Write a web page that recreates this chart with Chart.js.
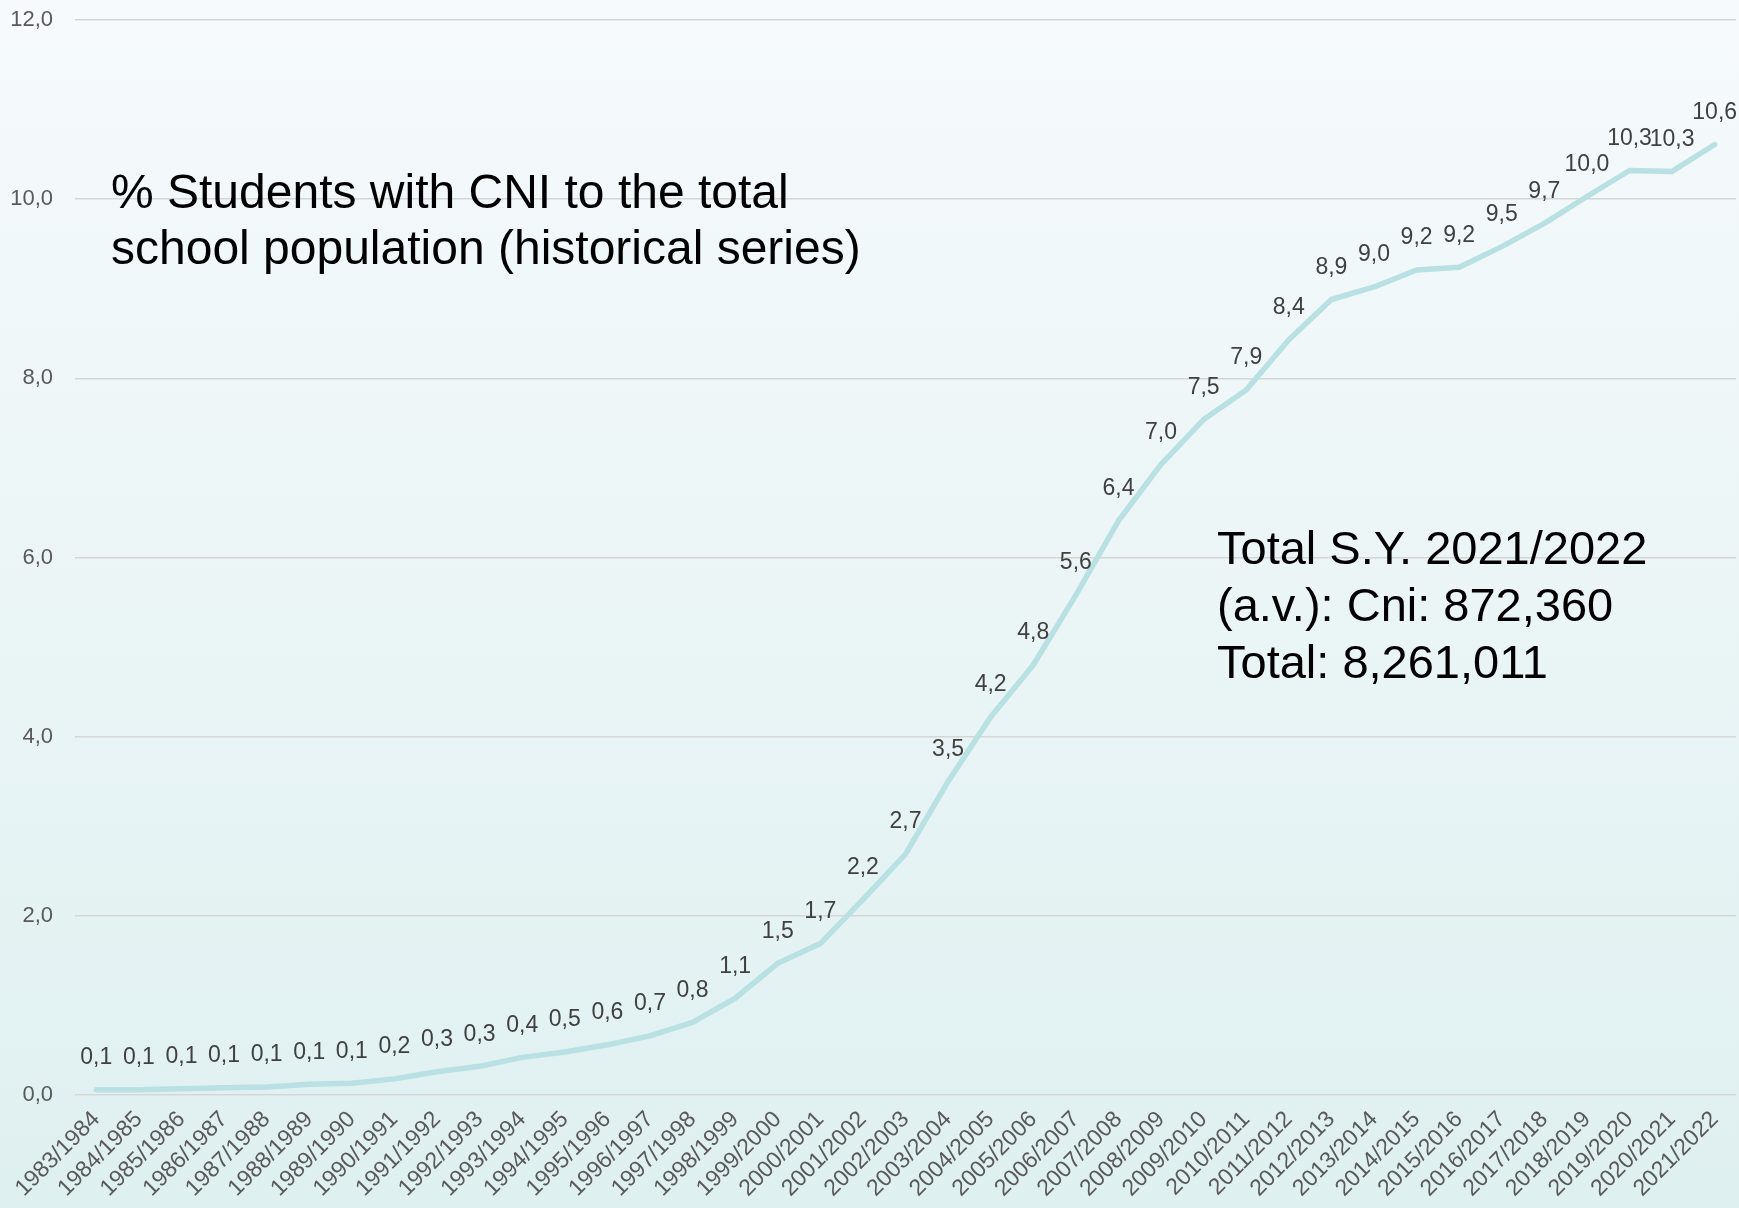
<!DOCTYPE html>
<html>
<head>
<meta charset="utf-8">
<script src="https://cdn.jsdelivr.net/npm/chart.js@4"></script>
<style>
    body { margin: 0; background: #eef6f8; }
    #wrap { width: 1739px; height: 1208px; position: relative; }
</style>
</head>
<body>
<div id="wrap"><canvas id="chart"></canvas></div>
<script>
const YEARS = [
    '1983/1984', '1984/1985', '1985/1986', '1986/1987', '1987/1988', '1988/1989', '1989/1990',
    '1990/1991', '1991/1992', '1992/1993', '1993/1994', '1994/1995', '1995/1996', '1996/1997',
    '1997/1998', '1998/1999', '1999/2000', '2000/2001', '2001/2002', '2002/2003', '2003/2004',
    '2004/2005', '2005/2006', '2006/2007', '2007/2008', '2008/2009', '2009/2010', '2010/2011',
    '2011/2012', '2012/2013', '2013/2014', '2014/2015', '2015/2016', '2016/2017', '2017/2018',
    '2018/2019', '2019/2020', '2020/2021', '2021/2022'
];

// % students with CNI
const CNI_PCT = [
    0.06, 0.06, 0.07, 0.08, 0.09, 0.12, 0.13, 0.18, 0.26, 0.32,
    0.42, 0.48, 0.56, 0.66, 0.81, 1.08, 1.47, 1.69, 2.18, 2.69,
    3.50, 4.22, 4.80, 5.58, 6.41, 7.04, 7.54, 7.87, 8.43, 8.88,
    9.02, 9.21, 9.24, 9.47, 9.73, 10.03, 10.32, 10.31, 10.61
];

const Y_TICKS = [0, 2, 4, 6, 8, 10, 12];

const TITLE_LINES = ['% Students with CNI to the total', 'school population (historical series)'];
const NOTE_LINES = ['Total S.Y. 2021/2022', '(a.v.): Cni: 872,360', 'Total: 8,261,011'];

const FONT = '"Liberation Sans", Arial, sans-serif';

function fmt(v) {
    return v.toFixed(1).replace('.', ',');
}

const background = {
    id: 'background',
    beforeDraw(chart) {
        let ctx = chart.ctx;
        let g = ctx.createLinearGradient(0, 0, 0, chart.height);
        g.addColorStop(0, '#f6fafc');
        g.addColorStop(1, '#dff0f0');
        ctx.save();
        ctx.fillStyle = g;
        ctx.fillRect(0, 0, chart.width, chart.height);
        ctx.restore();
    }
};

const valueLabels = {
    id: 'valueLabels',
    afterDatasetsDraw(chart) {
        let ctx = chart.ctx;
        let meta = chart.getDatasetMeta(0);
        ctx.save();
        ctx.font = '23px ' + FONT;
        ctx.fillStyle = '#404040';
        ctx.textAlign = 'center';
        ctx.textBaseline = 'middle';
        meta.data.forEach((pt, i) => {
            ctx.fillText(fmt(CNI_PCT[i]), pt.x, pt.y - 32);
        });
        ctx.restore();
    }
};

const notes = {
    id: 'notes',
    afterDraw(chart) {
        let ctx = chart.ctx;
        ctx.save();
        ctx.fillStyle = '#000000';
        ctx.textAlign = 'left';
        ctx.textBaseline = 'alphabetic';
        ctx.font = '48px ' + FONT;
        TITLE_LINES.forEach((t, i) => ctx.fillText(t, 111, 208 + i * 56));
        ctx.font = '47px ' + FONT;
        NOTE_LINES.forEach((t, i) => ctx.fillText(t, 1217, 564 + i * 57));
        ctx.restore();
    }
};

new Chart(document.getElementById('chart'), {
    type: 'line',
    data: {
        labels: YEARS,
        datasets: [{
            label: '% CNI',
            data: CNI_PCT,
            borderColor: '#b9e0e3',
            borderWidth: 5.5,
            borderCapStyle: 'round',
            borderJoinStyle: 'round',
            pointRadius: 0,
            tension: 0,
            fill: false
        }]
    },
    options: {
        responsive: true,
        maintainAspectRatio: false,
        devicePixelRatio: 1,
        animation: false,
        layout: { padding: { left: 11, right: 3, top: 20, bottom: 0 } },
        plugins: {
            legend: { display: false },
            tooltip: { enabled: false }
        },
        scales: {
            x: {
                offset: true,
                grid: { display: false, drawTicks: false },
                border: { display: false },
                ticks: {
                    autoSkip: false,
                    minRotation: 45,
                    maxRotation: 45,
                    padding: 11,
                    color: '#595959',
                    font: { family: FONT, size: 23 }
                },
                afterFit(scale) {
                    scale.height = 113;
                    scale.paddingLeft = 0;
                    scale.paddingRight = 0;
                }
            },
            y: {
                min: 0,
                max: 12,
                afterBuildTicks(scale) { scale.ticks = Y_TICKS.map(v => ({ value: v })); },
                grid: { color: '#d6d6d6', lineWidth: 1.5, drawTicks: false },
                border: { display: false },
                ticks: {
                    padding: 22,
                    color: '#595959',
                    font: { family: FONT, size: 22 },
                    callback: v => fmt(v)
                },
                afterFit(scale) {
                    scale.width = 64;
                    scale.paddingTop = 0;
                    scale.paddingBottom = 0;
                }
            }
        }
    },
    plugins: [background, valueLabels, notes]
});
</script>
</body>
</html>
